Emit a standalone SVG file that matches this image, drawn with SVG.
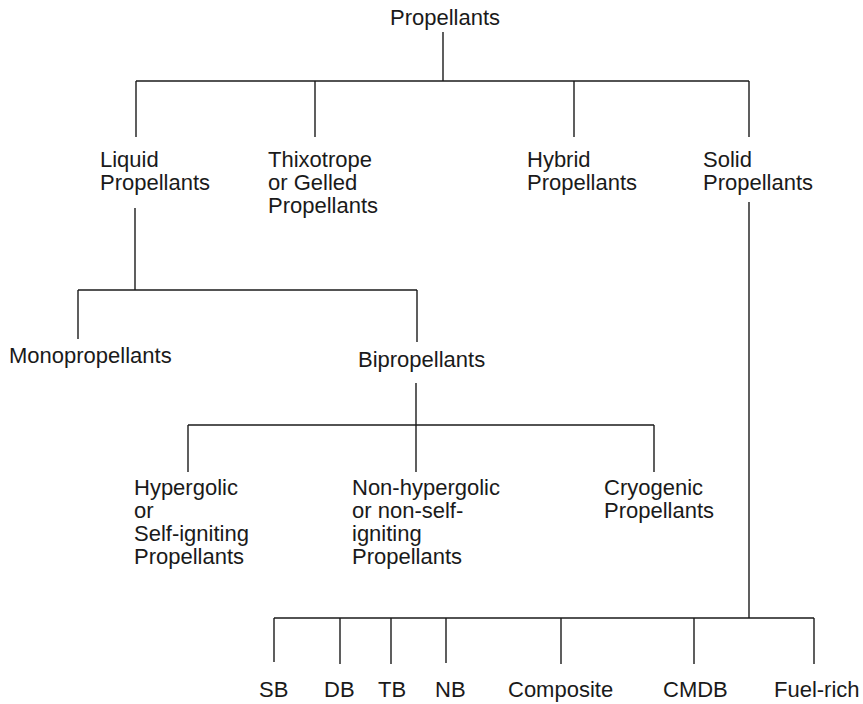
<svg xmlns="http://www.w3.org/2000/svg" width="863" height="704" viewBox="0 0 863 704">
<style>
text{font-family:"Liberation Sans",Arial,sans-serif;font-size:22px;fill:#1a1a1a}
.c line{stroke:#1a1a1a;stroke-width:1.4;fill:none}
</style>
<rect width="863" height="704" fill="#fff"/>
<g class="c" id="connectors">
<line x1="443" y1="32" x2="443" y2="81"/>
<line x1="136" y1="81" x2="749" y2="81"/>
<line x1="136" y1="81" x2="136" y2="137"/>
<line x1="315" y1="81" x2="315" y2="137"/>
<line x1="574" y1="81" x2="574" y2="137"/>
<line x1="749" y1="81" x2="749" y2="137"/>
<line x1="135" y1="208" x2="135" y2="290"/>
<line x1="78" y1="290" x2="417" y2="290"/>
<line x1="78" y1="290" x2="78" y2="339"/>
<line x1="417" y1="290" x2="417" y2="342"/>
<line x1="416" y1="383" x2="416" y2="425"/>
<line x1="188" y1="425" x2="654" y2="425"/>
<line x1="188" y1="425" x2="188" y2="472"/>
<line x1="416" y1="425" x2="416" y2="472"/>
<line x1="654" y1="425" x2="654" y2="472"/>
<line x1="749" y1="202" x2="749" y2="618"/>
<line x1="274" y1="618" x2="814" y2="618"/>
<line x1="274" y1="618" x2="274" y2="662"/>
<line x1="340" y1="618" x2="340" y2="664"/>
<line x1="391" y1="618" x2="391" y2="664"/>
<line x1="446" y1="618" x2="446" y2="663"/>
<line x1="561" y1="618" x2="561" y2="664"/>
<line x1="694" y1="618" x2="694" y2="664"/>
<line x1="814" y1="618" x2="814" y2="664"/>
</g>
<g id="propellants"><text x="390" y="25">Propellants</text></g>
<g id="liquid"><text x="100" y="167">Liquid</text><text x="100" y="190">Propellants</text></g>
<g id="thixotrope"><text x="268" y="167">Thixotrope</text><text x="268" y="190">or Gelled</text><text x="268" y="213">Propellants</text></g>
<g id="hybrid"><text x="527" y="167">Hybrid</text><text x="527" y="190">Propellants</text></g>
<g id="solid"><text x="703" y="167">Solid</text><text x="703" y="190">Propellants</text></g>
<g id="mono"><text x="9" y="363">Monopropellants</text></g>
<g id="bi"><text x="358" y="367">Bipropellants</text></g>
<g id="hypergolic"><text x="134" y="495">Hypergolic</text><text x="134" y="518">or</text><text x="134" y="541">Self-igniting</text><text x="134" y="564">Propellants</text></g>
<g id="nonhypergolic"><text x="352" y="495">Non-hypergolic</text><text x="352" y="518">or non-self-</text><text x="352" y="541">igniting</text><text x="352" y="564">Propellants</text></g>
<g id="cryogenic"><text x="604" y="495">Cryogenic</text><text x="604" y="518">Propellants</text></g>
<g id="sb"><text x="259" y="697">SB</text></g>
<g id="db"><text x="324" y="697">DB</text></g>
<g id="tb"><text x="378" y="697">TB</text></g>
<g id="nb"><text x="435" y="697">NB</text></g>
<g id="composite"><text x="508" y="697">Composite</text></g>
<g id="cmdb"><text x="663" y="697">CMDB</text></g>
<g id="fuelrich"><text x="774" y="697">Fuel-rich</text></g>
</svg>
